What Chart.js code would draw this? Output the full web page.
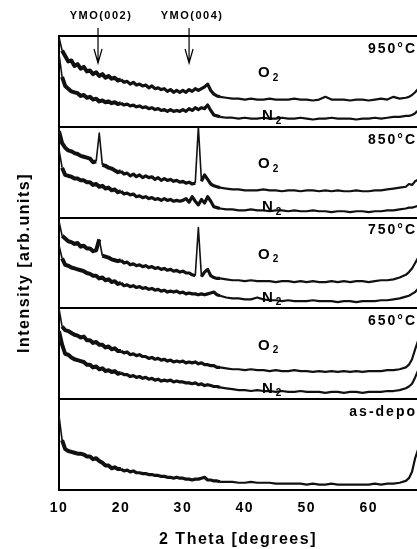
<!DOCTYPE html>
<html>
<head>
<meta charset="utf-8">
<script src="https://cdn.jsdelivr.net/npm/chart.js@4.4.1/dist/chart.umd.min.js"></script>
<style>
  html, body { margin: 0; padding: 0; background: #fff; }
  canvas { display: block; }
</style>
</head>
<body>
<canvas id="xrdChart" width="417" height="549" style="width:417px;height:549px"></canvas>
<script>
// 2 theta grid (degrees)
const twoTheta = [
  10, 10.5, 11, 11.5, 12, 12.5, 13, 13.5, 14, 14.5,
  15, 15.5, 16, 16.5, 17, 17.5, 18, 18.5, 19, 19.5,
  20, 20.5, 21, 21.5, 22, 22.5, 23, 23.5, 24, 24.5,
  25, 25.5, 26, 26.5, 27, 27.5, 28, 28.5, 29, 29.5,
  30, 30.5, 31, 31.5, 32, 32.5, 33, 33.5, 34, 34.5,
  35, 35.5, 36,
  37, 38, 39, 40, 41, 42, 43, 44, 45, 46,
  47, 48, 49, 50, 51, 52, 53, 54, 55, 56,
  57, 58, 59, 60, 61, 62, 63, 64, 65, 66,
  66.5, 67, 67.5, 68
];

// intensities, in fractions of one panel height
const o2_950 = [
  .99, .84, .78, .72, .73, .67, .69, .64, .66, .61,
  .62, .58, .60, .56, .58, .54, .56, .53, .54, .51,
  .52, .49, .50, .47, .49, .46, .47, .45, .46, .43,
  .45, .42, .43, .41, .42, .39, .41, .38, .40, .38,
  .40, .38, .41, .39, .42, .40, .42, .44, .47, .40,
  .36, .34, .33,
  .32, .31, .31, .30, .31, .30, .30, .31, .30, .30,
  .30, .31, .30, .30, .29, .30, .33, .30, .30, .30,
  .29, .30, .30, .29, .30, .31, .30, .33, .31, .32,
  .33, .35, .38, .42
];
const n2_950 = [
  .80, .55, .45, .42, .39, .38, .37, .34, .35, .32,
  .33, .30, .31, .28, .29, .27, .28, .26, .27, .25,
  .26, .24, .25, .23, .24, .22, .23, .21, .22, .20,
  .21, .19, .20, .18, .19, .17, .19, .17, .18, .17,
  .19, .17, .20, .18, .21, .19, .21, .20, .24, .18,
  .13, .12, .11,
  .10, .10, .09, .10, .09, .09, .10, .09, .09, .10,
  .09, .09, .10, .09, .08, .09, .09, .10, .09, .09,
  .09, .08, .09, .09, .10, .09, .10, .11, .11, .12,
  .12, .13, .15, .18
];
const o2_850 = [
  .95, .82, .77, .74, .73, .71, .70, .68, .67, .66,
  .65, .61, .62, .93, .58, .57, .55, .54, .52, .50,
  .51, .48, .49, .46, .48, .45, .47, .44, .46, .44,
  .45, .42, .44, .41, .43, .41, .42, .40, .41, .39,
  .40, .38, .39, .37, .38, 1.0, .40, .47, .42, .37,
  .35, .34, .33,
  .32, .31, .31, .30, .30, .30, .31, .30, .30, .29,
  .30, .30, .29, .30, .30, .29, .30, .29, .30, .29,
  .29, .30, .29, .29, .30, .30, .31, .32, .33, .34,
  .37, .36, .40, .42
];
const n2_850 = [
  .75, .55, .47, .46, .45, .43, .43, .41, .41, .39,
  .39, .36, .37, .34, .35, .32, .33, .30, .31, .28,
  .29, .26, .27, .25, .26, .23, .24, .22, .23, .21,
  .22, .20, .21, .19, .21, .19, .20, .18, .19, .18,
  .19, .21, .17, .23, .18, .14, .20, .16, .23, .18,
  .12, .11, .10,
  .09, .09, .08, .08, .09, .08, .08, .07, .08, .08,
  .07, .08, .07, .07, .08, .07, .07, .06, .07, .07,
  .06, .07, .07, .06, .07, .07, .08, .08, .09, .10,
  .11, .11, .12, .13
];
const o2_750 = [
  .96, .80, .77, .74, .73, .71, .72, .68, .69, .66,
  .66, .63, .64, .76, .58, .57, .56, .54, .53, .52,
  .53, .50, .51, .48, .49, .47, .48, .46, .47, .45,
  .46, .44, .45, .43, .44, .42, .43, .41, .42, .40,
  .41, .39, .39, .37, .36, .89, .35, .40, .43, .36,
  .34, .33, .33,
  .32, .31, .31, .30, .31, .30, .30, .30, .29, .30,
  .30, .29, .30, .29, .30, .29, .29, .30, .29, .30,
  .29, .30, .30, .29, .30, .31, .31, .32, .34, .37,
  .40, .44, .50, .56
];
const n2_750 = [
  .70, .55, .48, .47, .45, .44, .43, .42, .41, .39,
  .38, .36, .36, .33, .34, .31, .32, .29, .30, .27,
  .28, .25, .26, .24, .25, .23, .24, .22, .23, .21,
  .22, .20, .21, .19, .20, .18, .19, .18, .19, .17,
  .18, .16, .17, .16, .16, .15, .16, .15, .16, .17,
  .18, .15, .14,
  .12, .11, .11, .10, .10, .12, .10, .09, .09, .08,
  .09, .08, .08, .08, .09, .08, .08, .08, .07, .08,
  .08, .07, .08, .08, .08, .09, .09, .10, .11, .13,
  .14, .16, .18, .22
];
const o2_650 = [
  1.0, .80, .76, .75, .73, .71, .70, .68, .69, .65,
  .65, .62, .63, .60, .60, .57, .58, .55, .56, .53,
  .53, .51, .52, .49, .50, .48, .49, .47, .47, .45,
  .46, .44, .45, .43, .44, .42, .43, .41, .42, .41,
  .42, .40, .41, .40, .41, .39, .40, .38, .38, .37,
  .37, .35, .35,
  .34, .33, .33, .32, .33, .32, .32, .31, .32, .31,
  .31, .32, .31, .31, .30, .31, .30, .31, .30, .31,
  .30, .31, .30, .31, .31, .31, .32, .32, .33, .35,
  .38, .44, .55, .65
];
const n2_650 = [
  .75, .60, .50, .49, .46, .44, .43, .42, .41, .38,
  .38, .35, .36, .33, .34, .31, .32, .30, .31, .28,
  .29, .27, .27, .25, .26, .24, .25, .23, .24, .22,
  .23, .21, .22, .20, .21, .20, .21, .19, .20, .19,
  .19, .18, .18, .17, .18, .16, .17, .15, .16, .15,
  .14, .14, .13,
  .12, .11, .10, .10, .09, .10, .09, .09, .08, .09,
  .08, .08, .09, .08, .08, .08, .07, .08, .08, .07,
  .08, .08, .07, .08, .08, .08, .09, .09, .10, .12,
  .14, .17, .24, .32
];
const asDepo = [
  .82, .55, .45, .43, .42, .41, .40, .40, .39, .37,
  .37, .34, .35, .32, .30, .27, .27, .24, .25, .23,
  .23, .21, .22, .20, .21, .19, .19, .18, .18, .17,
  .17, .16, .16, .15, .15, .14, .14, .13, .14, .13,
  .13, .12, .12, .11, .12, .12, .13, .14, .11, .11,
  .10, .10, .09,
  .09, .09, .08, .08, .09, .08, .08, .08, .07, .07,
  .07, .07, .07, .06, .07, .06, .06, .07, .06, .06,
  .06, .06, .06, .06, .07, .06, .07, .07, .08, .10,
  .13, .20, .35, .45
];

// panels, top to bottom
const panelNames = ['950°C', '850°C', '750°C', '650°C', 'as-depo'];
const panelTraces = [
  [o2_950, n2_950],
  [o2_850, n2_850],
  [o2_750, n2_750],
  [o2_650, n2_650],
  [asDepo]
];
const markerNames = ['YMO(002)', 'YMO(004)'];
const markerTheta = [16.3, 31.0];
const xTicks = [10, 20, 30, 40, 50, 60];

const FONT = '"Liberation Sans", Arial, sans-serif';

// noisy low-angle part of the scans looks like a thick band, sharp peaks stay thin
const traceWidth = c => {
  const x = c.p0.parsed.x;
  if (Math.abs(c.p1.parsed.y - c.p0.parsed.y) > 0.15) return 1.6;
  if (x < 20) return 4;
  if (x < 36) return 3.2;
  return 2.2;
};

const datasets = [];
panelTraces.forEach((traces, p) => {
  const base = panelNames.length - 1 - p;
  traces.forEach((vals, t) => {
    datasets.push({
      label: panelNames[p] + (traces.length > 1 ? (t === 0 ? ' O2' : ' N2') : ''),
      data: twoTheta.map((x, i) => ({ x: x, y: base + vals[i] })),
      borderColor: '#111',
      borderWidth: 2.2,
      segment: { borderWidth: traceWidth },
      borderJoinStyle: 'round',
      pointRadius: 0,
      tension: 0,
      fill: false
    });
  });
});

const labelsPlugin = {
  id: 'xrdLabels',
  beforeDraw(chart) {
    chart.ctx.letterSpacing = '1.5px';
  },
  afterDraw(chart) {
    const { ctx, scales: { x, y } } = chart;
    ctx.save();
    ctx.fillStyle = '#000';
    ctx.strokeStyle = '#000';

    // temperature / sample names
    ctx.letterSpacing = '2px';
    ctx.font = 'bold 14px ' + FONT;
    ctx.textAlign = 'right';
    ctx.textBaseline = 'middle';
    panelNames.forEach((name, p) => {
      const top = y.getPixelForValue(panelNames.length - p);
      ctx.fillText(name, 417, top + 13);
    });

    // gas labels
    ctx.textAlign = 'left';
    panelTraces.forEach((traces, p) => {
      if (traces.length < 2) return;
      const top = y.getPixelForValue(panelNames.length - p);
      [['O', 258, 37], ['N', 262, 80]].forEach(([g, gx, dy]) => {
        ctx.letterSpacing = '0px';
        ctx.font = 'bold 15px ' + FONT;
        ctx.fillText(g, gx, top + dy);
        const w = ctx.measureText(g).width;
        ctx.font = 'bold 10px ' + FONT;
        ctx.fillText('2', gx + w + 3, top + dy + 5);
      });
    });

    // YMO markers with arrows
    ctx.letterSpacing = '1.5px';
    ctx.font = 'bold 11px ' + FONT;
    ctx.textAlign = 'center';
    ctx.lineWidth = 1.2;
    markerNames.forEach((name, i) => {
      const px = x.getPixelForValue(markerTheta[i]);
      ctx.fillText(name, px + 3, 16);
      ctx.beginPath();
      ctx.moveTo(px, 28);
      ctx.lineTo(px, 63);
      ctx.moveTo(px - 4, 49);
      ctx.lineTo(px, 63);
      ctx.lineTo(px + 4, 49);
      ctx.stroke();
    });
    ctx.restore();
  }
};

new Chart(document.getElementById('xrdChart'), {
  type: 'line',
  data: { datasets },
  plugins: [labelsPlugin],
  options: {
    responsive: false,
    animation: false,
    events: [],
    layout: { padding: { top: 36, right: 0, bottom: 0, left: 0 } },
    plugins: { legend: { display: false }, tooltip: { enabled: false } },
    scales: {
      x: {
        type: 'linear',
        min: 10,
        max: 67.8,
        afterBuildTicks: s => { s.ticks = xTicks.map(v => ({ value: v })); },
        afterFit: s => { s.height = 59; },
        ticks: {
          color: '#000',
          padding: 10,
          font: { family: FONT, size: 14, weight: 'bold' }
        },
        grid: { display: true, drawOnChartArea: false, drawTicks: false },
        border: { display: true, color: '#000', width: 2 },
        title: {
          display: true,
          text: '2 Theta [degrees]',
          color: '#000',
          padding: { top: 0, bottom: 0 },
          font: { family: FONT, size: 16, weight: 'bold' }
        }
      },
      y: {
        type: 'linear',
        min: 0,
        max: 5,
        afterFit: s => { s.width = 59; },
        ticks: { display: false, stepSize: 1 },
        grid: { display: true, color: '#000', lineWidth: 2, drawTicks: false },
        border: { display: true, color: '#000', width: 2 },
        title: {
          display: true,
          text: 'Intensity [arb.units]',
          color: '#000',
          padding: { top: 15, bottom: 0 },
          font: { family: FONT, size: 16, weight: 'bold' }
        }
      }
    }
  }
});
</script>
</body>
</html>
